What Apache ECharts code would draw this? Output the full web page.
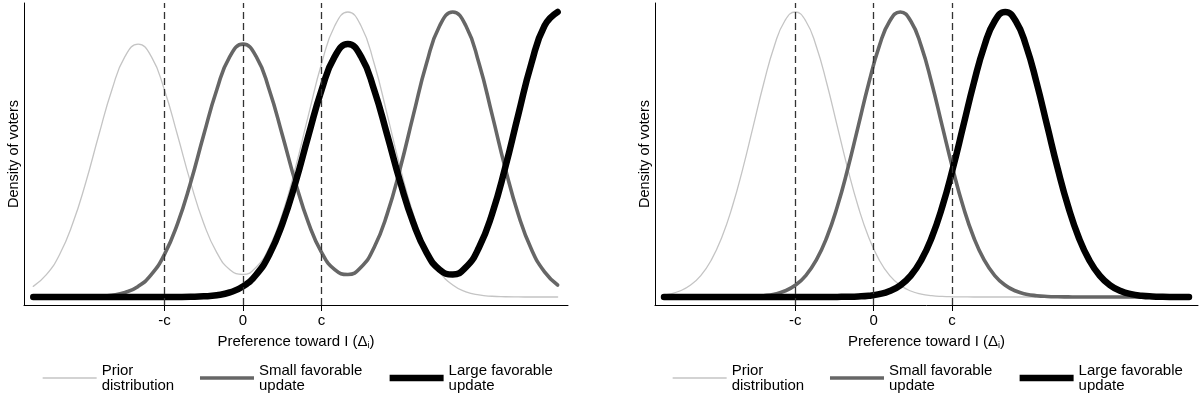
<!DOCTYPE html>
<html><head><meta charset="utf-8">
<script src="https://cdn.jsdelivr.net/npm/echarts@6/dist/echarts.min.js"></script>
<style>html,body{margin:0;padding:0;background:#fff}#c{width:1200px;height:400px}</style>
</head><body><div id="c"></div>
<script>
// ---- data ----
const tickValues = [-1, 0, 1];
const tickLabels = ['-c', '0', 'c'];
const seriesNames = ['Prior distribution', 'Small favorable update', 'Large favorable update'];
const legendLabels = ['Prior\ndistribution', 'Small favorable\nupdate', 'Large favorable\nupdate'];
const xAxisTitle = 'Preference toward I (Δ';
const xAxisSub = 'i';
const yAxisTitle = 'Density of voters';

// left panel
const xLeft = [-2.672, -2.505, -2.338, -2.171, -2.004, -1.837, -1.670, -1.503, -1.336, -1.169,
  -1.002, -0.835, -0.668, -0.501, -0.334, -0.167, 0, 0.167, 0.334, 0.501,
  0.668, 0.835, 1.002, 1.169, 1.336, 1.503, 1.670, 1.837, 2.004, 2.171,
  2.338, 2.505, 2.672, 2.839, 3.006, 3.173, 3.340, 3.507, 3.674, 3.841, 4.008];
const priorLeft = [3.53, 7.43, 14.1, 24.4, 38.1, 54.0, 69.1, 80.2, 84.3, 80.2,
  69.1, 54.0, 38.2, 24.6, 14.8, 9.1, 7.5, 9.9, 16.5, 27.7,
  43.1, 60.8, 77.9, 90.4, 95, 90.4, 77.9, 60.8, 43.0, 27.5,
  15.9, 8.37, 3.98, 1.71, 0.67, 0.24, 0.08, 0.02, 0, 0, 0];
const smallLeft = [0, 0, 0, 0.02, 0.07, 0.21, 0.59, 1.52, 3.53, 7.43,
  14.1, 24.4, 38.1, 54.0, 69.1, 80.2, 84.3, 80.2, 69.1, 54.0,
  38.2, 24.6, 14.8, 9.1, 7.5, 9.9, 16.5, 27.7, 43.1, 60.8,
  77.9, 90.4, 95, 90.4, 77.9, 60.8, 43.0, 27.5, 15.9, 8.37, 3.98];
const largeLeft = [0, 0, 0, 0, 0, 0, 0, 0, 0, 0,
  0, 0.02, 0.07, 0.21, 0.59, 1.52, 3.53, 7.43, 14.1, 24.4,
  38.1, 54.0, 69.1, 80.2, 84.3, 80.2, 69.1, 54.0, 38.2, 24.6,
  14.8, 9.1, 7.5, 9.9, 16.5, 27.7, 43.1, 60.8, 77.9, 90.4, 95];

// right panel
const xRight = [-2.675, -2.608, -2.474, -2.340, -2.206, -2.072, -1.938, -1.804, -1.670, -1.536,
  -1.402, -1.268, -1.134, -1.000, -0.866, -0.732, -0.598, -0.464, -0.330, -0.196,
  -0.062, 0.072, 0.206, 0.340, 0.474, 0.608, 0.742, 0.876, 1.010, 1.144,
  1.278, 1.412, 1.546, 1.680, 1.814, 1.948, 2.082, 2.216, 2.350, 2.484,
  2.618, 2.752, 2.886, 3.020, 3.154, 3.288, 3.422, 3.556, 3.690, 3.824, 3.958, 4.025];
const priorRight = [0.64, 0.95, 1.99, 3.89, 7.14, 12.29, 19.84, 30.06, 42.73, 56.97,
  71.25, 83.60, 92.01, 95, 92.01, 83.60, 71.25, 56.97, 42.73, 30.06,
  19.84, 12.29, 7.14, 3.89, 1.99, 0.95, 0.43, 0.18, 0.07, 0.03,
  0, 0, 0, 0, 0, 0, 0, 0, 0, 0,
  0, 0, 0, 0, 0, 0, 0, 0, 0, 0, 0, 0];
const smallRight = [0, 0, 0, 0, 0, 0, 0, 0.03, 0.07, 0.18,
  0.43, 0.95, 1.99, 3.89, 7.14, 12.29, 19.84, 30.06, 42.73, 56.97,
  71.25, 83.60, 92.01, 95, 92.01, 83.60, 71.25, 56.97, 42.73, 30.06,
  19.84, 12.29, 7.14, 3.89, 1.99, 0.95, 0.43, 0.18, 0.07, 0.03,
  0, 0, 0, 0, 0, 0, 0, 0, 0, 0, 0, 0];
const largeRight = [0, 0, 0, 0, 0, 0, 0, 0, 0, 0,
  0, 0, 0, 0, 0, 0, 0, 0.03, 0.07, 0.18,
  0.43, 0.95, 1.99, 3.89, 7.14, 12.29, 19.84, 30.06, 42.73, 56.97,
  71.25, 83.60, 92.01, 95, 92.01, 83.60, 71.25, 56.97, 42.73, 30.06,
  19.84, 12.29, 7.14, 3.89, 1.99, 0.95, 0.43, 0.18, 0.07, 0.03, 0.01, 0];

// ---- chart ----
const FONT = "'Liberation Sans', Arial, sans-serif";
const colors = ['#c4c4c4', '#666666', '#000000'];
const widths = [1.3, 3.6, 6.5];
const pair = (xs, ys) => xs.map((x, i) => [x, ys[i]]);

function makeXAxis(gi) {
  return {
    type: 'value', gridIndex: gi, min: -2.79, max: 4.14,
    axisLine: { show: true, onZero: false, lineStyle: { color: '#000', width: 1 } },
    axisTick: { show: true, customValues: tickValues, length: 6, lineStyle: { color: '#000', width: 1 } },
    axisLabel: { show: true, customValues: tickValues, margin: 8, fontSize: 15, color: '#000', fontFamily: FONT,
      formatter: v => tickLabels[tickValues.indexOf(v)] },
    splitLine: { show: false },
    name: '{t|' + xAxisTitle + '}{s|' + xAxisSub + '}{t|)}',
    nameLocation: 'middle', nameGap: 18,
    nameTextStyle: { fontFamily: FONT, color: '#000',
      rich: { t: { fontSize: 15, fontFamily: FONT, color: '#000', lineHeight: 17 },
              s: { fontSize: 9, fontFamily: FONT, color: '#000', lineHeight: 17, padding: [8, 0, 0, 0] } } }
  };
}
function makeYAxis(gi) {
  return {
    type: 'value', gridIndex: gi, min: -2.67, max: 98,
    axisLine: { show: true, onZero: false, lineStyle: { color: '#000', width: 1 } },
    axisTick: { show: false }, axisLabel: { show: false }, splitLine: { show: false },
    name: yAxisTitle, nameLocation: 'middle', nameGap: 3,
    nameTextStyle: { fontSize: 14.5, fontFamily: FONT, color: '#000' }
  };
}
function makeSeries(gi, xs, ys, k) {
  const s = {
    name: seriesNames[k], type: 'line', xAxisIndex: gi, yAxisIndex: gi,
    data: pair(xs, ys), smooth: 0.5, symbol: 'none', showSymbol: false,
    lineStyle: { color: colors[k], width: widths[k], cap: 'round', join: 'round' },
    itemStyle: { color: colors[k] }, z: 2 + k
  };
  if (k === 0) {
    s.markLine = {
      silent: true, symbol: ['none', 'none'], animation: false,
      label: { show: false },
      lineStyle: { color: '#333', width: 1.3, type: [7, 4] },
      data: tickValues.map(v => ({ xAxis: v }))
    };
  }
  return s;
}
function makeLegend(left) {
  return {
    left: left, top: 358, orient: 'horizontal', selectedMode: false,
    itemWidth: 54, itemHeight: 30, itemGap: 24,
    data: seriesNames,
    formatter: n => legendLabels[seriesNames.indexOf(n)],
    lineStyle: { width: 'inherit', cap: 'butt' },
    itemStyle: { color: 'rgba(0,0,0,0)', borderWidth: 0, opacity: 0 },
    textStyle: { fontSize: 15, lineHeight: 15, fontFamily: FONT, color: '#000' }
  };
}

const chart = echarts.init(document.getElementById('c'), null, { renderer: 'canvas' });
chart.setOption({
  animation: false,
  backgroundColor: '#fff',
  textStyle: { fontFamily: FONT },
  grid: [
    { left: 24, top: 3, width: 544, height: 302, containLabel: false, outerBoundsMode: 'none' },
    { left: 655, top: 3, width: 543, height: 302, containLabel: false, outerBoundsMode: 'none' }
  ],
  legend: [makeLegend(37), makeLegend(667)],
  xAxis: [makeXAxis(0), makeXAxis(1)],
  yAxis: [makeYAxis(0), makeYAxis(1)],
  series: [
    makeSeries(0, xLeft, priorLeft, 0),
    makeSeries(0, xLeft, smallLeft, 1),
    makeSeries(0, xLeft, largeLeft, 2),
    makeSeries(1, xRight, priorRight, 0),
    makeSeries(1, xRight, smallRight, 1),
    makeSeries(1, xRight, largeRight, 2)
  ]
});
</script>
</body></html>
